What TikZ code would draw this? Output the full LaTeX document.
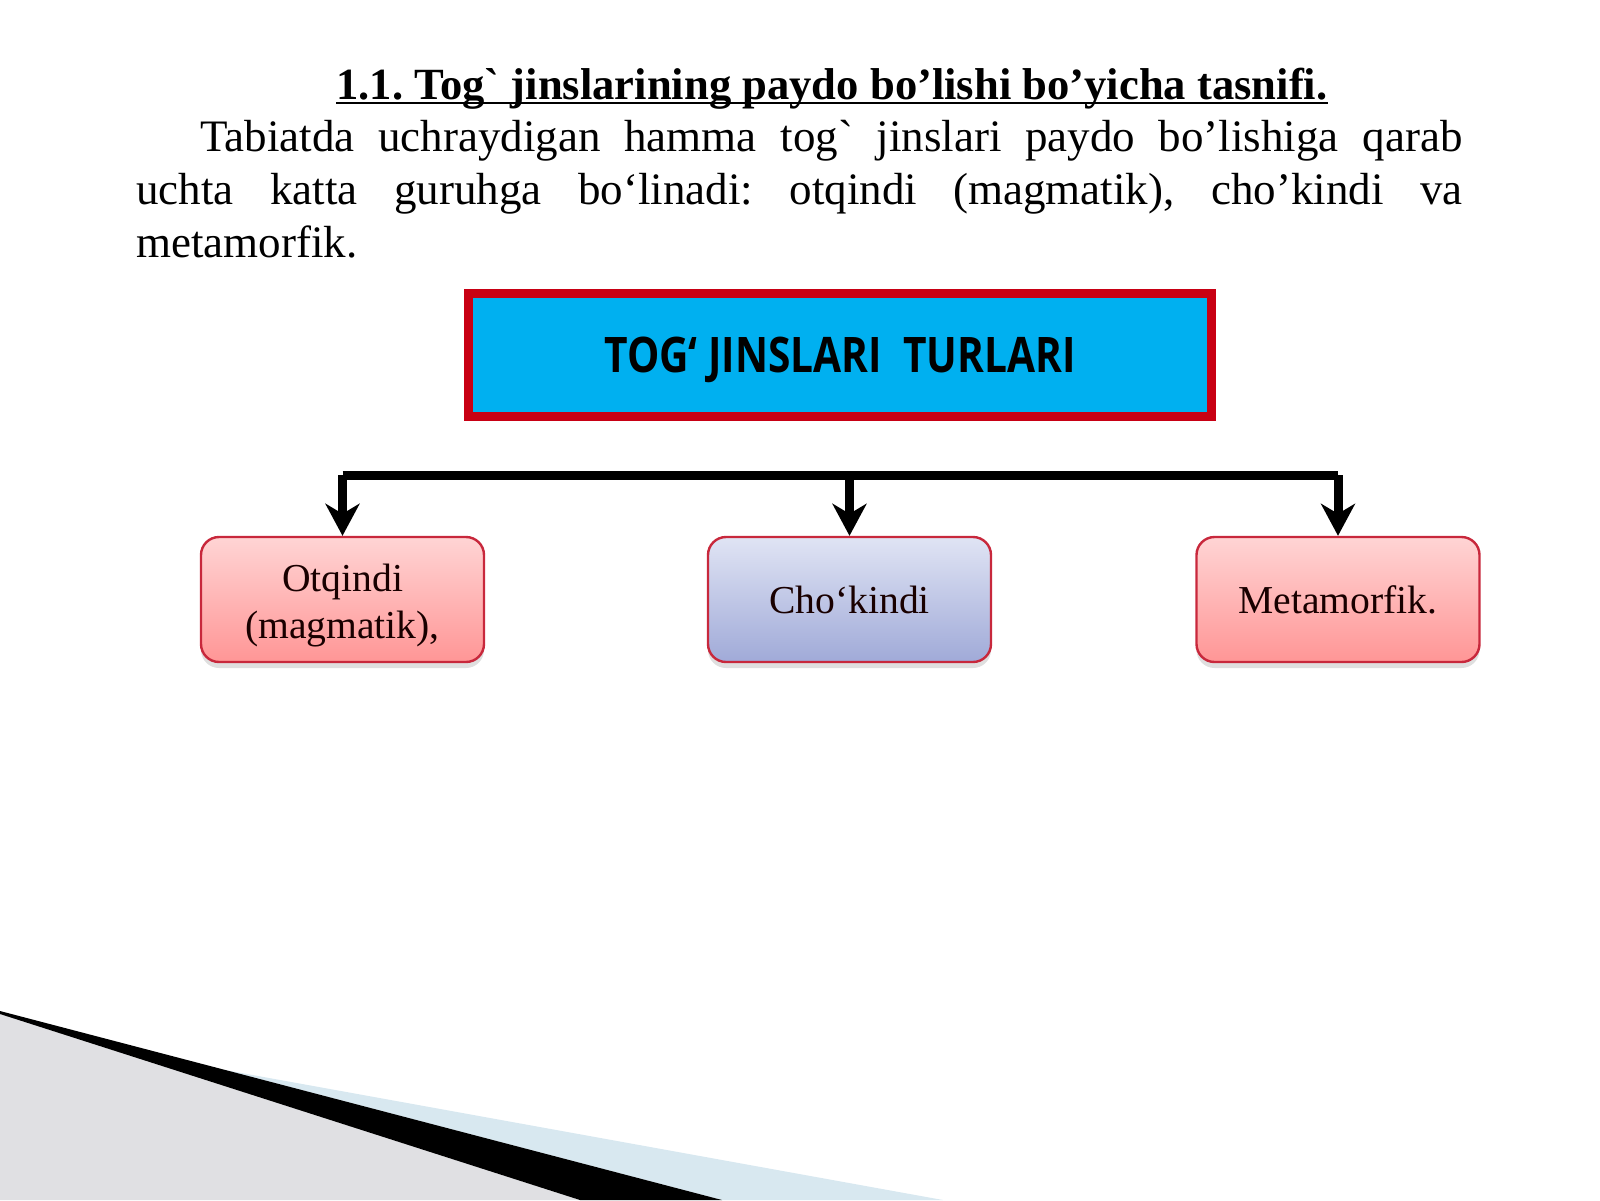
\documentclass[tikz,border=0pt]{standalone}
\usepackage{fontspec}
\setmainfont{Liberation Serif}[Ligatures=TeXOff]
\newfontfamily\boxfont{Open Sans}[FakeStretch=0.83]
\usetikzlibrary{arrows.meta,shadows}
\definecolor{boxred}{RGB}{200,0,20}
\definecolor{boxcyan}{RGB}{0,176,240}
\definecolor{pinktop}{RGB}{255,212,212}
\definecolor{pinkbot}{RGB}{255,150,150}
\definecolor{bluetop}{RGB}{224,228,244}
\definecolor{bluebot}{RGB}{160,170,216}
\definecolor{edgered}{RGB}{200,40,60}
\definecolor{wedgegray}{RGB}{224,224,227}
\definecolor{wedgeblue}{RGB}{216,232,240}
\frenchspacing

\begin{document}
\begin{tikzpicture}[x=0.5pt,y=-0.5pt]
\tikzstyle{every node}+=[inner sep=0pt]
\tikzstyle{kind}=[draw=edgered, line width=1.2pt, rounded corners=9pt, minimum width=141.5pt, minimum height=62.5pt, align=center, text=black!90!red, font=\fontsize{19.8}{23.5}\selectfont, drop shadow={shadow xshift=0pt, shadow yshift=-3pt, opacity=0.25}]
\tikzstyle{pinkkind}=[kind, top color=pinktop, bottom color=pinkbot]
\tikzstyle{bluekind}=[kind, top color=bluetop, bottom color=bluebot]
\tikzstyle{down}=[line width=4.5pt, -{Stealth[length=16pt,width=17pt,inset=5pt]}]
\useasboundingbox (0,0) rectangle (1600,1200);
\fill [wedgeblue] (225,1070) -- (943,1200) -- (722,1200) -- cycle;
\fill [wedgegray] (0,1013) -- (580,1200) -- (0,1200) -- cycle;
\fill [black] (0,1011) -- (722,1200) -- (580,1200) -- (0,1014) -- cycle;
\node (title) at (832,99) [anchor=base, font=\fontsize{22.3}{26}\selectfont\bfseries] {1.1. Tog` jinslarining paydo bo’lishi bo’yicha tasnifi.};
\draw [line width=1.2pt] ([yshift=-2pt]title.base west) -- ([yshift=-2pt]title.base east);
\node (para) at (136,120) [anchor=north west, text width=663pt, align=justify, font=\fontsize{22.5}{26.5}\selectfont] {\hspace*{32pt}Tabiatda uchraydigan hamma tog` jinslari paydo bo’lishiga qarab\linebreak uchta katta guruhga bo‘linadi: otqindi (magmatik), cho’kindi va\linebreak metamorfik.};
\node (types) at (840,355) [draw=boxred, line width=4.5pt, fill=boxcyan, minimum width=371.5pt, minimum height=61.5pt, text depth=0pt, font=\boxfont\fontsize{24.5}{28}\selectfont\bfseries] {TOG‘ JINSLARI~ TURLARI};
\node (otqindi) at (342.5,599.5) [pinkkind, text height=43pt] {Otqindi\\(magmatik),};
\node (chokindi) at (849.5,599.5) [bluekind] {Cho‘kindi};
\node (metamorfik) at (1338,599.5) [pinkkind] {Metamorfik.};
\coordinate (barL) at (342.5,475);
\coordinate (barR) at (1338,475);
\draw [line width=4.5pt] (barL) -- (barR);
\draw [down] (barL) -- (otqindi.north);
\draw [down] (chokindi.north |- barL) -- (chokindi.north);
\draw [down] (barR) -- (metamorfik.north);
\end{tikzpicture}
\end{document}
